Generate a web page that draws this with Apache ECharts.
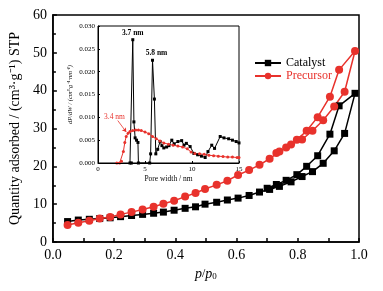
<!DOCTYPE html>
<html><head><meta charset="utf-8">
<script src="https://cdn.jsdelivr.net/npm/echarts@6/dist/echarts.min.js"></script>
<style>html,body{margin:0;padding:0;background:#fff}#c{width:383px;height:291px}</style>
</head><body><div id="c"></div>
<script>
// Main isotherm data
const catAdsP = [0.048,0.083,0.119,0.153,0.187,0.221,0.257,0.293,0.329,0.361,0.396,0.432,0.466,0.497,0.535,0.570,0.605,0.641,0.675,0.708,0.740,0.778,0.814,0.848,0.883,0.919,0.953,0.987];
const catAdsQ = [5.4,5.8,6.0,6.2,6.4,6.7,7.0,7.3,7.6,7.9,8.4,8.9,9.3,10.0,10.5,11.1,11.6,12.3,13.2,13.9,14.7,15.9,17.3,18.6,20.8,24.1,28.7,39.3];
const catDesP = [0.935,0.905,0.865,0.829,0.797,0.762,0.730,0.700];
const catDesQ = [36.0,28.5,22.8,20.0,17.8,16.3,15.2,14.2];
const preAdsP = catAdsP;
const preAdsQ = [4.5,5.1,5.6,6.2,6.6,7.3,7.9,8.6,9.3,10.1,10.9,12.0,12.95,14.0,15.1,16.2,17.7,19.0,20.4,22.0,23.9,25.8,27.1,29.4,32.2,35.8,39.7,50.5];
const preDesP = [0.935,0.905,0.865,0.829,0.797,0.762,0.730];
const preDesQ = [45.5,38.4,33.0,29.4,27.0,25.0,23.5];
// Inset pore size distribution
const catPoreW = [3.4,3.55,3.7,3.82,3.95,4.1,4.25,4.3,5.5,5.6,5.8,6.0,6.15,6.35,6.6,6.8,7.0,7.3,7.55,7.85,8.1,8.5,8.9,9.15,9.4,9.8,10.2,10.6,11.0,11.4,11.7,12.1,12.4,13.0,13.4,13.9,14.3,14.7,15.0];
const catPoreV = [0,0,0.027,0.009,0.0055,0.005,0.0045,0,0,0.002,0.0225,0.014,0.002,0.003,0.0047,0.0038,0.0033,0.0035,0.0038,0.005,0.0042,0.0047,0.0049,0.0039,0.0043,0.0036,0.0021,0.0018,0.0015,0.0012,0.0025,0.0039,0.0032,0.0058,0.0055,0.0053,0.005,0.0047,0.0044];
const prePoreW = [2.0,2.3,2.5,2.7,2.85,3.0,3.2,3.4,3.7,4.0,4.3,4.6,5.0,5.4,5.8,6.2,6.6,7.0,7.5,8.0,8.5,9.0,9.5,9.9,10.3,10.8,11.3,11.8,12.3,12.8,13.3,13.8,14.3,14.8,15.0];
const prePoreV = [0,0,0.0004,0.0025,0.0045,0.0058,0.0065,0.0069,0.0071,0.0072,0.0072,0.0071,0.0068,0.0064,0.0058,0.0053,0.0048,0.0044,0.0041,0.0039,0.0037,0.0035,0.0031,0.0024,0.0021,0.002,0.0019,0.0017,0.0016,0.0015,0.0014,0.0013,0.0013,0.0012,0.0012];
const xTicks = [0,0.2,0.4,0.6,0.8,1.0];
const yTicks = [0,10,20,30,40,50,60];

const zip = (a,b)=>a.map((v,i)=>[v,b[i]]);
const RED = '#e8322c';
const serif = 'Liberation Serif';

const chart = echarts.init(document.getElementById('c'));
chart.setOption({
  animation:false,
  backgroundColor:'#fff',
  textStyle:{fontFamily:serif},
  grid:[
    {left:52,top:15,right:24,bottom:49,show:true,borderColor:'#000',borderWidth:1.5,backgroundColor:'transparent'},
    {left:98,top:26,width:141,height:137,show:true,borderColor:'#000',borderWidth:1,backgroundColor:'#fff',z:3}
  ],
  legend:{
    left:249,top:52,orient:'vertical',itemGap:1,itemWidth:26,itemHeight:8,
    textStyle:{fontFamily:serif,fontSize:12},
    data:[{name:'Catalyst',textStyle:{color:'#000'}},{name:'Precursor',textStyle:{color:RED}}]
  },
  xAxis:[
    {gridIndex:0,type:'value',min:0,max:1,interval:0.2,
     axisLine:{lineStyle:{color:'#000',width:1.5}},
     axisTick:{inside:true,length:4,lineStyle:{width:1.5}},
     minorTick:{show:true,splitNumber:2,length:4,lineStyle:{color:'#000',width:1.5}},
     splitLine:{show:false},
     axisLabel:{color:'#000',fontSize:14,fontFamily:serif,margin:6,formatter:v=>xTicks.includes(+v.toFixed(1))?v.toFixed(1):''},
     name:'{i|p}/{i|p}{s|0}',nameLocation:'middle',nameGap:24,
     nameTextStyle:{rich:{i:{fontStyle:'italic',fontSize:14,fontFamily:serif,color:'#000'},s:{fontSize:9,fontFamily:serif,verticalAlign:'bottom',padding:[6,0,0,0],color:'#000'}}}},
    {gridIndex:1,type:'value',min:0,max:15,interval:5,
     axisLine:{lineStyle:{color:'#000',width:1}},
     axisTick:{inside:true,length:2},
     splitLine:{show:false},
     axisLabel:{color:'#000',fontSize:7,fontFamily:serif,margin:3},
     name:'Pore width / nm',nameLocation:'middle',nameGap:12,
     nameTextStyle:{fontSize:7.5,fontFamily:serif,color:'#000'},z:6}
  ],
  yAxis:[
    {gridIndex:0,type:'value',min:0,max:60,interval:10,
     axisLine:{lineStyle:{color:'#000',width:1.5}},
     axisTick:{inside:true,length:4,lineStyle:{width:1.5}},
     minorTick:{show:true,splitNumber:2,length:3,lineStyle:{color:'#000',width:1.5}},
     splitLine:{show:false},
     axisLabel:{color:'#000',fontSize:14,fontFamily:serif,margin:6,formatter:v=>yTicks.includes(v)?String(v):''},
     name:'Quantity adsorbed / (cm³·g⁻¹) STP',nameLocation:'middle',nameGap:18,
     nameTextStyle:{fontSize:14,fontFamily:serif,color:'#000'}},
    {gridIndex:1,type:'value',min:0,max:0.03,interval:0.005,
     axisLine:{lineStyle:{color:'#000',width:1}},
     axisTick:{inside:true,length:2},
     splitLine:{show:false},
     axisLabel:{color:'#000',fontSize:7,fontFamily:serif,margin:3,formatter:v=>v.toFixed(3)},
     name:'dP/dW / (cm³·g⁻¹·nm⁻¹)',nameLocation:'middle',nameGap:24,
     nameTextStyle:{fontSize:6.5,fontFamily:serif,fontStyle:'italic',color:'#000'},z:6}
  ],
  series:[
    {name:'Catalyst',type:'line',xAxisIndex:0,yAxisIndex:0,
     data:zip(catAdsP,catAdsQ).concat(zip(catDesP,catDesQ)),
     symbol:'rect',symbolSize:7,itemStyle:{color:'#000'},lineStyle:{color:'#000',width:1.5},z:2},
    {name:'Precursor',type:'line',xAxisIndex:0,yAxisIndex:0,
     data:zip(preAdsP,preAdsQ).concat(zip(preDesP,preDesQ)),
     symbol:'circle',symbolSize:8,itemStyle:{color:RED},lineStyle:{color:RED,width:1.5},z:2},
    {name:'Catalyst PSD',type:'line',xAxisIndex:1,yAxisIndex:1,
     data:zip(catPoreW,catPoreV),symbol:'rect',symbolSize:3,
     itemStyle:{color:'#000'},lineStyle:{color:'#000',width:1},z:5,
     markPoint:{symbol:'circle',symbolSize:0,silent:true,
       label:{show:true,fontFamily:serif,fontSize:7.5,fontWeight:'bold',color:'#000',position:'top',distance:3},
       data:[{coord:[3.7,0.027],value:'3.7 nm'},{coord:[5.8,0.0225],value:'5.8 nm',label:{offset:[4,0]}}]}},
    {name:'Precursor PSD',type:'line',xAxisIndex:1,yAxisIndex:1,
     data:zip(prePoreW,prePoreV),symbol:'circle',symbolSize:3,
     itemStyle:{color:RED},lineStyle:{color:RED,width:1},z:5,
     markPoint:{symbol:'circle',symbolSize:0,silent:true,
       label:{show:true,fontFamily:serif,fontSize:7.5,color:RED,formatter:'3.4 nm',offset:[0,0]},
       data:[{coord:[1.75,0.0101],value:'3.4 nm'}]},
     markLine:{silent:true,symbol:['none','arrow'],symbolSize:4,
       lineStyle:{color:RED,width:0.8,type:'solid'},label:{show:false},
       data:[[{coord:[2.1,0.0093]},{coord:[3.0,0.0068]}]]}}
  ]
});
</script></body></html>
